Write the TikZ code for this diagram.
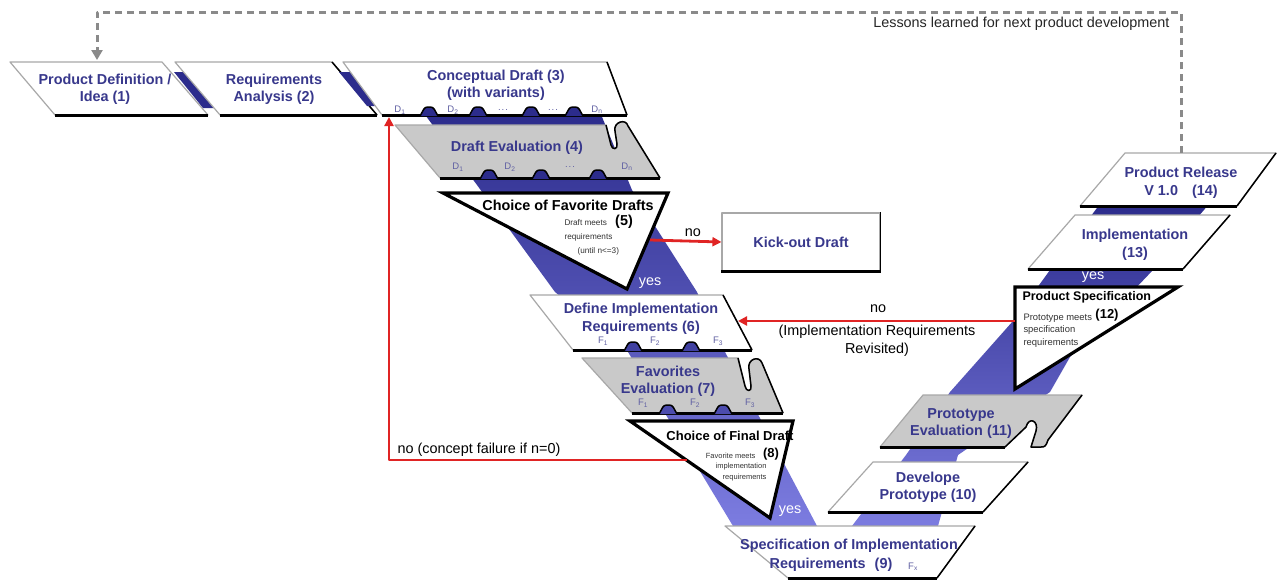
\documentclass[tikz,border=0pt]{standalone}
\usepackage{fontspec}
\setmainfont{Liberation Sans}
\usetikzlibrary{arrows.meta}

\definecolor{navy}{HTML}{2C2C8C}
\definecolor{lightband}{HTML}{7C7CE0}
\definecolor{titleblue}{HTML}{38388C}
\definecolor{evalgrey}{HTML}{C9C9C9}
\definecolor{edgegrey}{HTML}{A8A8A8}
\definecolor{nored}{HTML}{E02424}
\definecolor{dashgrey}{HTML}{8A8A8A}

\begin{document}
\begin{tikzpicture}[x=1pt, y=-1pt, line join=round,
		stage/.style={fill=white, draw=edgegrey, line width=1.2pt},
		evalstage/.style={fill=evalgrey, draw=edgegrey, line width=1.2pt},
		baseedge/.style={draw=black, line width=3pt},
		sideedge/.style={draw=black, line width=1.5pt},
		decision/.style={fill=white, draw=black, line width=3.2pt, line join=miter},
		stagetext/.style={font=\fontsize{14.4}{17.5}\selectfont\bfseries, text=titleblue, align=center},
		decisiontext/.style={font=\fontsize{#1}{15}\selectfont\bfseries},
		smalltext/.style={font=\fontsize{#1}{12.5}\selectfont, text=black!80},
		varlabel/.style={font=\fontsize{9.5}{10}\selectfont, text=titleblue!80},
		plaintext/.style={font=\fontsize{14.4}{17.5}\selectfont},
		yestext/.style={font=\fontsize{14.4}{17.5}\selectfont, text=white},
		bump/.style={fill=#1, draw=black, line width=1.5pt, rounded corners=2.5pt},
		noline/.style={draw=nored, line width=2.8pt, -{Triangle[width=9pt,length=9pt]}},
		feedback/.style={draw=dashgrey, line width=3pt, dash pattern=on 7pt off 5pt, -{Triangle[width=11pt,length=10pt]}}
	]
	\def\vdots{.\kern1pt.\kern1pt.}
	\useasboundingbox (0,0) rectangle (1277,581);
	\fill[white] (0,0) rectangle (1277,581);

	% bands behind the stages
	\shade[top color=navy, bottom color=lightband] (423,112) -- (600,112) -- (632,190) -- (697,292) -- (725,352) -- (817,526) -- (733,526) -- (628,352) -- (555,292) -- (477,185) -- cycle;
	\shade[top color=navy, bottom color=lightband] (1100,204) -- (1209,204) -- (1153,270) -- (1070,357) -- (1050,392) -- (958,455) -- (938,526) -- (852,526) -- (906,455) -- (950,392) -- (1013,321) -- (1050,270) -- cycle;

	% upper row
	\draw[stage] (10,62) -- (162,62) -- (208,115) -- (55,115) -- cycle;
	\draw[baseedge] (55,115) -- (208,115);
	\fill[navy] (174,72) -- (187,72) -- (216,108) -- (203,108) -- cycle;

	\draw[stage] (175,62) -- (332,62) -- (377,115) -- (220,115) -- cycle;
	\draw[baseedge] (220,115) -- (377,115);
	\draw[sideedge] (377,115) -- (332,62);
	\fill[navy] (339,72) -- (352,72) -- (380,106) -- (367,106) -- cycle;

	\draw[stage] (343,62) -- (607,62) -- (627,115) -- (382,115) -- cycle;
	\draw[baseedge] (382,115) -- (627,115);
	\draw[sideedge] (627,115) -- (607,62);
	\foreach \bx in {428,477,530,573}
		\draw[bump=navy] (\bx-8,116) -- (\bx-3,107) -- (\bx+5,107) -- (\bx+10,116);

	% draft evaluation
	\draw[evalstage] (395,125) -- (606,125) -- (611,145) .. controls (612,150) and (618,150) .. (617,144) -- (615,131) .. controls (613,122) and (626,118) .. (628,126) -- (660,178) -- (440,178) -- cycle;
	\draw[baseedge] (440,178) -- (660,178);
	\draw[sideedge] (606,125) -- (611,145) .. controls (612,150) and (618,150) .. (617,144) -- (615,131) .. controls (613,122) and (626,118) .. (628,126) -- (660,178);
	\foreach \bx in {488,540,597}
		\draw[bump=navy] (\bx-8,179) -- (\bx-3,170) -- (\bx+5,170) -- (\bx+10,179);

	\draw[decision] (443,193) -- (668,193) -- (627,289) -- cycle;

	% kick-out
	\node[stagetext, fill=white, draw=edgegrey, line width=1.2pt, minimum width=158pt, minimum height=58pt] (kickout) at (801,242) {Kick-out Draft};
	\draw[baseedge] (kickout.south west) -- (kickout.south east);
	\draw[sideedge] (kickout.south east) -- (kickout.north east);

	% implementation requirements
	\draw[stage] (530,295) -- (723,295) -- (752,350) -- (573,350) -- cycle;
	\draw[baseedge] (573,350) -- (752,350);
	\draw[sideedge] (752,350) -- (723,295);
	\foreach \bx in {632,690}
		\draw[bump=navy!75!lightband] (\bx-8,351) -- (\bx-3,342) -- (\bx+5,342) -- (\bx+10,351);

	\draw[evalstage] (582,358) -- (738,358) -- (745,386) .. controls (746,392) and (752,392) .. (751,386) -- (749,369) .. controls (747,359) and (759,355) .. (762,363) -- (783,413) -- (632,413) -- cycle;
	\draw[baseedge] (632,413) -- (783,413);
	\draw[sideedge] (738,358) -- (745,386) .. controls (746,392) and (752,392) .. (751,386) -- (749,369) .. controls (747,359) and (759,355) .. (762,363) -- (783,413);
	\foreach \bx in {667,722}
		\draw[bump=navy!60!lightband] (\bx-8,414) -- (\bx-3,405) -- (\bx+5,405) -- (\bx+10,414);

	\draw[decision] (630,421) -- (793,421) -- (770,518) -- cycle;

	% bottom
	\draw[stage] (725,526) -- (975,526) -- (937,578) -- (788,578) -- cycle;
	\draw[baseedge] (788,578) -- (937,578);
	\draw[sideedge] (937,578) -- (975,526);

	% right branch
	\draw[stage] (873,462) -- (1028,462) -- (983,512) -- (828,512) -- cycle;
	\draw[baseedge] (828,512) -- (983,512);
	\draw[sideedge] (983,512) -- (1028,462);

	\draw[evalstage] (923,395) -- (1082,395) -- (1048,440) .. controls (1046,446) and (1045,447) .. (1041,447) -- (1031,447) -- (1036,431) .. controls (1039,421) and (1029,416) .. (1026,427) -- (1005,447) -- (880,447) -- cycle;
	\draw[baseedge] (880,447) -- (1005,447);
	\draw[sideedge] (1082,395) -- (1048,440) .. controls (1046,446) and (1045,447) .. (1041,447) -- (1031,447) -- (1036,431) .. controls (1039,421) and (1029,416) .. (1026,427) -- (1005,447);

	\draw[decision] (1015,287) -- (1178,287) -- (1015,389) -- cycle;

	\draw[stage] (1075,215) -- (1230,215) -- (1183,269) -- (1028,269) -- cycle;
	\draw[baseedge] (1028,269) -- (1183,269);
	\draw[sideedge] (1183,269) -- (1230,215);

	\draw[stage] (1125,153) -- (1276,153) -- (1237,206) -- (1080,206) -- cycle;
	\draw[baseedge] (1080,206) -- (1237,206);
	\draw[sideedge] (1237,206) -- (1276,153);

	% stage texts
	\node[stagetext] (pdef) at (105,89.5) {Product Definition /\\Idea (1)};
	\node[stagetext] (req) at (274,89.5) {Requirements\\Analysis (2)};
	\node[stagetext] (concept) at (496,85.5) {Conceptual Draft (3)\\(with variants)};
	\node[stagetext] (drafteval) at (517,148) {Draft Evaluation (4)};
	\node[stagetext] (defimpl) at (641,319) {Define Implementation\\Requirements (6)};
	\node[stagetext] (faveval) at (668,381.5) {Favorites\\Evaluation (7)};
	\node[stagetext] (specimpl) at (849,546) {Specification of Implementation};
	\node[stagetext] (specimpl-2) at (831,565) {Requirements\hspace{9pt}(9)};
	\node[stagetext] (devproto) at (928,487.5) {Develope\\Prototype (10)};
	\node[stagetext] (protoeval) at (961,423.5) {Prototype\\Evaluation (11)};
	\node[stagetext] (impl) at (1135,245) {Implementation\\(13)};
	\node[stagetext] (release) at (1181,183) {Product Release\\V 1.0\hspace{14pt}(14)};

	% variant labels
	\foreach \vx/\vt in {400/D\textsubscript{1}, 453/D\textsubscript{2}, 503/\vdots, 553/\vdots, 597/D\textsubscript{n}}
		\node[varlabel] at (\vx,110) {\vt};
	\foreach \vx/\vt in {458/D\textsubscript{1}, 510/D\textsubscript{2}, 570/\vdots, 627/D\textsubscript{n}}
		\node[varlabel] at (\vx,167) {\vt};
	\foreach \vx/\vt in {603/F\textsubscript{1}, 655/F\textsubscript{2}, 718/F\textsubscript{3}}
		\node[varlabel] at (\vx,341) {\vt};
	\foreach \vx/\vt in {643/F\textsubscript{1}, 695/F\textsubscript{2}, 750/F\textsubscript{3}}
		\node[varlabel] at (\vx,403) {\vt};
	\node[varlabel] (fx) at (913,567) {F\textsubscript{x}};

	% decisions
	\node[decisiontext=14.4] (fav) at (568,205) {Choice of Favorite Drafts};
	\node[decisiontext=14.4] (fav-num) at (624,222) {(5)};
	\node[smalltext=8.2, anchor=west] (fav-note-1) at (561,223) {Draft meets};
	\node[smalltext=8.2, anchor=west] (fav-note-2) at (561,237) {requirements};
	\node[smalltext=8.2, anchor=west] (fav-note-3) at (574,251) {(until n<=3)};

	\node[decisiontext=13] (final) at (730,436) {Choice of Final Draft};
	\node[decisiontext=13] (final-num) at (771,454) {(8)};
	\node[smalltext=7.5, anchor=east] (final-note-1) at (759,456) {Favorite meets};
	\node[smalltext=7.5, anchor=east] (final-note-2) at (770,467) {implementation};
	\node[smalltext=7.5, anchor=east] (final-note-3) at (770,478) {requirements};

	\node[decisiontext=12.5, anchor=west] (spec) at (1019,297) {Product Specification};
	\node[decisiontext=13] (spec-num) at (1107,315) {(12)};
	\node[smalltext=9.4, anchor=north west, align=left] (spec-note) at (1020,310) {Prototype meets\\specification\\requirements};

	\node[yestext] (yes5) at (650,283) {yes};
	\node[yestext] (yes8) at (790,511) {yes};
	\node[yestext] (yes12) at (1093,277) {yes};

	% red connectors
	\coordinate (fav-no) at (650,240);
	\draw[noline] (fav-no) -- (kickout.west) node[plaintext, pos=0.6, above] (no1) {no};

	\coordinate (final-no) at (687,460);
	\coordinate (concept-in) at (389,117);
	\draw[noline] (final-no) -| (concept-in);
	\node[plaintext, anchor=west] (fail-label) at (394,450) {no (concept failure if n=0)};

	\coordinate (spec-no) at (1015,321);
	\coordinate (defimpl-in) at (738,321);
	\draw[noline] (spec-no) -- (defimpl-in);
	\node[plaintext] (revisit-no) at (878,309) {no};
	\node[plaintext, align=center] (revisit-label) at (877,341) {(Implementation Requirements\\Revisited)};

	% lessons learned loop
	\coordinate (release-top) at (1181,153);
	\coordinate (loop-right) at (1181,12);
	\coordinate (loop-left) at (97,12);
	\coordinate (pdef-top) at (97,60);
	\draw[feedback] (release-top) -- (loop-right) -- (loop-left) -- (pdef-top);
	\node[plaintext, anchor=east, text=black!85] (lessons) at (1173,24) {Lessons learned for next product development};
\end{tikzpicture}
\end{document}
